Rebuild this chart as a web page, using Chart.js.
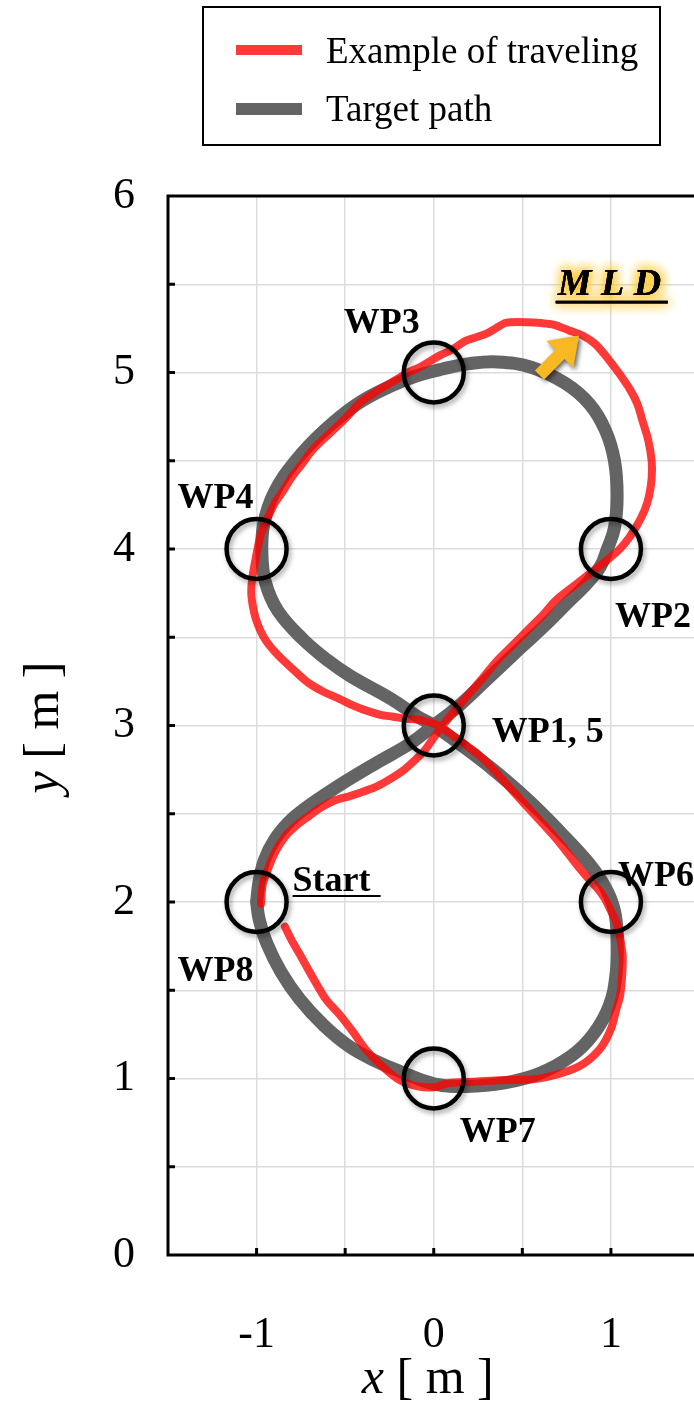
<!DOCTYPE html>
<html>
<head>
<meta charset="utf-8">
<script src="https://cdn.jsdelivr.net/npm/chart.js@4.4.1/dist/chart.umd.min.js"></script>
<style>
  html, body { margin: 0; padding: 0; background: #fff; overflow: hidden; }
  #wrap { position: relative; width: 734px; height: 1404px; }
  #chart { width: 734px; height: 1404px; }
</style>
</head>
<body>
<div id="wrap"><canvas id="chart" width="734" height="1404"></canvas></div>
<script>
// target figure-eight, starting at WP8 and running WP1 -> WP8
const targetX = [-1.0, -0.985, -0.955, -0.9, -0.82, -0.74, -0.55, -0.32, -0.13, 0.0, 0.14, 0.3, 0.49,
  0.62, 0.75, 0.86, 0.94, 0.98, 1.02, 1.035, 1.02, 0.97, 0.88, 0.74, 0.55, 0.36, 0.2, 0.05, -0.1,
  -0.25, -0.435, -0.62, -0.78, -0.9, -0.96, -0.97, -0.95, -0.88, -0.74, -0.6, -0.47, -0.24, -0.09,
  0.0, 0.14, 0.335, 0.53, 0.72, 0.875, 0.97, 1.02, 1.035, 1.03, 0.99, 0.9, 0.78, 0.6, 0.4, 0.185,
  0.0, -0.19, -0.33, -0.475, -0.62, -0.757, -0.86, -0.94, -0.985, -1.0];
const targetY = [2.0, 2.12, 2.24, 2.35, 2.45, 2.52, 2.65, 2.79, 2.9, 3.0, 3.11, 3.26, 3.44,
  3.56, 3.69, 3.8, 3.9, 4.0, 4.12, 4.3, 4.5, 4.67, 4.82, 4.94, 5.03, 5.06, 5.05, 5.02, 4.98,
  4.92, 4.82, 4.67, 4.5, 4.32, 4.14, 3.97, 3.81, 3.65, 3.49, 3.37, 3.28, 3.15, 3.05,
  3.0, 2.9, 2.75, 2.58, 2.39, 2.22, 2.08, 1.95, 1.8, 1.6, 1.41, 1.25, 1.13, 1.03, 0.975, 0.955,
  0.97, 1.04, 1.1, 1.18, 1.3, 1.45, 1.6, 1.76, 1.9, 2.0];

// measured run
const travelX = [-0.975, -0.965, -0.93, -0.897, -0.84, -0.78, -0.7, -0.647, -0.56, -0.474, -0.4, -0.32,
  -0.24, -0.166, -0.1, -0.05, 0.027, 0.123, 0.2, 0.277, 0.36, 0.45, 0.53, 0.62, 0.69, 0.79, 0.88,
  0.97, 1.05, 1.1, 1.145, 1.19, 1.215, 1.23, 1.23, 1.21, 1.18, 1.15, 1.11, 1.05, 0.99, 0.913, 0.84,
  0.76, 0.68, 0.605, 0.52, 0.43, 0.4, 0.35, 0.297, 0.24, 0.18, 0.104, 0.04, -0.012, -0.08, -0.146,
  -0.21, -0.28, -0.35, -0.416, -0.48, -0.55, -0.62, -0.685, -0.745, -0.8, -0.85, -0.897, -0.94,
  -0.974, -0.995, -1.01, -1.025, -1.03, -1.02, -1.003, -0.975, -0.94, -0.89, -0.84, -0.775, -0.705,
  -0.62, -0.53, -0.46, -0.397, -0.3, -0.23, -0.166, -0.07, 0.027, 0.085, 0.142, 0.2, 0.258, 0.32,
  0.373, 0.45, 0.527, 0.6, 0.681, 0.75, 0.816, 0.875, 0.93, 0.965, 0.99, 1.015, 1.04, 1.055, 1.066,
  1.066, 1.06, 1.05, 1.03, 1.0, 0.94, 0.84, 0.72, 0.56, 0.37, 0.185, 0.09, 0.0, -0.09, -0.19, -0.28,
  -0.38, -0.46, -0.53, -0.606, -0.67, -0.743, -0.8, -0.84];
const travelY = [1.99, 2.1, 2.2, 2.28, 2.37, 2.43, 2.49, 2.53, 2.575, 2.6, 2.625, 2.655,
  2.7, 2.75, 2.81, 2.86, 2.97, 3.09, 3.18, 3.27, 3.37, 3.46, 3.54, 3.63, 3.71, 3.79, 3.86,
  3.93, 4.0, 4.06, 4.13, 4.22, 4.3, 4.4, 4.5, 4.62, 4.72, 4.82, 4.9, 4.99, 5.07, 5.16, 5.21,
  5.24, 5.27, 5.28, 5.285, 5.285, 5.28, 5.25, 5.22, 5.2, 5.18, 5.13, 5.1, 5.07, 5.03, 5.0,
  4.96, 4.92, 4.875, 4.83, 4.76, 4.69, 4.625, 4.56, 4.48, 4.41, 4.33, 4.26, 4.17,
  4.09, 4.0, 3.92, 3.83, 3.75, 3.67, 3.6, 3.53, 3.47, 3.41, 3.36, 3.3, 3.24,
  3.19, 3.15, 3.115, 3.09, 3.06, 3.05, 3.04, 3.03, 3.0, 2.96, 2.92, 2.875, 2.83, 2.77,
  2.71, 2.625, 2.54, 2.46, 2.37, 2.285, 2.2, 2.13, 2.07, 2.02, 1.97, 1.92, 1.86, 1.78, 1.7,
  1.63, 1.54, 1.46, 1.39, 1.28, 1.17, 1.08, 1.03, 0.995, 0.99, 0.98, 0.975, 0.95, 0.955, 0.99, 1.06,
  1.16, 1.27, 1.36, 1.445, 1.55, 1.68, 1.78, 1.86];

const wpNames = ['WP2', 'WP3', 'WP4', 'WP1, 5', 'WP6', 'WP7', 'WP8'];
const wpX = [1, 0, -1, 0, 1, 0, -1];
const wpY = [4, 5, 4, 3, 2, 1, 2];

const xLabelValues = [-1, 0, 1];
const yLabelValues = [0, 1, 2, 3, 4, 5, 6];

const SERIF = "'Liberation Serif', 'Times New Roman', serif";

// label placement relative to each waypoint, in px: [dx, dy, align]
const labelOffsets = {
  'WP2': [4, 78, 'left'],
  'WP3': [-14, -40, 'right'],
  'WP4': [-3, -41, 'right'],
  'WP1, 5': [58, 16, 'left'],
  'WP6': [7, -16, 'left'],
  'WP7': [26, 63, 'left'],
  'WP8': [-3, 79, 'right'],
};

const toPoints = (xs, ys) => xs.map((x, i) => ({ x, y: ys[i] }));

function drawArrow(ctx, tipX, tipY) {
  // block arrow pointing up-right
  const len = 56, headLen = 27, headHalf = 19, shaftHalf = 6.5;
  ctx.save();
  ctx.translate(tipX, tipY);
  ctx.rotate(-Math.PI / 4);
  ctx.beginPath();
  ctx.moveTo(0, 0);
  ctx.lineTo(-headLen, -headHalf);
  ctx.lineTo(-headLen, -shaftHalf);
  ctx.lineTo(-len, -shaftHalf);
  ctx.lineTo(-len, shaftHalf);
  ctx.lineTo(-headLen, shaftHalf);
  ctx.lineTo(-headLen, headHalf);
  ctx.closePath();
  ctx.shadowColor = 'rgba(0,0,0,0.65)';
  ctx.shadowBlur = 5;
  ctx.shadowOffsetX = 2;
  ctx.shadowOffsetY = 2;
  ctx.fillStyle = '#f7b824';
  ctx.fill();
  ctx.restore();
}

const figureNotes = {
  id: 'figureNotes',
  beforeDraw(chart) {
    const { ctx } = chart;
    ctx.save();
    ctx.fillStyle = '#fff';
    ctx.fillRect(0, 0, chart.width, chart.height);
    ctx.restore();
  },
  beforeDatasetDraw(chart, args) {
    if (args.index !== 0) return;
    const { ctx } = chart;
    ctx.save();
    ctx.shadowColor = 'rgba(0,0,0,0.35)';
    ctx.shadowBlur = 5;
    ctx.shadowOffsetX = 2;
    ctx.shadowOffsetY = 3;
  },
  afterDatasetDraw(chart, args) {
    if (args.index !== 0) return;
    chart.ctx.restore();
  },
  afterDraw(chart) {
    const { ctx, chartArea: a } = chart;
    const xs = chart.scales.x, ys = chart.scales.y;
    ctx.save();

    // frame
    ctx.strokeStyle = '#000';
    ctx.lineWidth = 3;
    ctx.strokeRect(a.left, a.top, a.right - a.left, a.bottom - a.top);

    // inward tick marks
    ctx.lineWidth = 3;
    ctx.beginPath();
    xs.ticks.forEach(t => {
      if (t.value <= xs.min || t.value >= xs.max) return;
      const p = xs.getPixelForValue(t.value);
      ctx.moveTo(p, a.bottom);
      ctx.lineTo(p, a.bottom - 7);
    });
    ys.ticks.forEach(t => {
      if (t.value <= ys.min || t.value >= ys.max) return;
      const p = ys.getPixelForValue(t.value);
      ctx.moveTo(a.left, p);
      ctx.lineTo(a.left + 7, p);
    });
    ctx.stroke();

    // axis titles: italic variable + upright unit
    ctx.fillStyle = '#000';
    ctx.textBaseline = 'alphabetic';
    const drawTitle = (v, unit, cx, cy) => {
      ctx.font = `italic 50px ${SERIF}`;
      const w1 = ctx.measureText(v).width;
      ctx.font = `50px ${SERIF}`;
      const w2 = ctx.measureText(unit).width;
      const x = cx - (w1 + w2) / 2;
      ctx.font = `italic 50px ${SERIF}`;
      ctx.textAlign = 'left';
      ctx.fillText(v, x, cy);
      ctx.font = `50px ${SERIF}`;
      ctx.fillText(unit, x + w1, cy);
    };
    drawTitle('x', ' [ m ]', (a.left + a.right) / 2 - 6, 1393);
    ctx.save();
    ctx.translate(58, (a.top + a.bottom) / 2 + 2);
    ctx.rotate(-Math.PI / 2);
    drawTitle('y', ' [ m ]', 0, 0);
    ctx.restore();

    // legend box
    ctx.lineWidth = 2;
    ctx.strokeStyle = '#000';
    ctx.strokeRect(203, 7, 457, 138);
    const legendItems = [chart.data.datasets[1], chart.data.datasets[2]];
    const rows = [[50, 63], [109, 121]];
    legendItems.forEach((ds, i) => {
      ctx.beginPath();
      ctx.strokeStyle = ds.borderColor;
      ctx.lineWidth = i === 0 ? 10 : 12;
      ctx.lineCap = 'butt';
      ctx.moveTo(236, rows[i][0]);
      ctx.lineTo(302, rows[i][0]);
      ctx.stroke();
      ctx.fillStyle = '#000';
      ctx.font = `37px ${SERIF}`;
      ctx.textAlign = 'left';
      ctx.fillText(ds.label, 326, rows[i][1]);
    });

    // waypoint names
    ctx.font = `bold 36px ${SERIF}`;
    ctx.fillStyle = '#000';
    wpNames.forEach((name, i) => {
      const [dx, dy, align] = labelOffsets[name];
      const px = xs.getPixelForValue(wpX[i]);
      const py = ys.getPixelForValue(wpY[i]);
      ctx.textAlign = align;
      ctx.fillText(name, px + dx, py + dy);
    });

    // start marker, underlined
    const sx = xs.getPixelForValue(wpX[6]) + 36;
    const sy = ys.getPixelForValue(wpY[6]) - 11;
    ctx.textAlign = 'left';
    ctx.fillText('Start', sx, sy);
    ctx.lineWidth = 2;
    ctx.strokeStyle = '#000';
    ctx.beginPath();
    ctx.moveTo(sx, sy + 5);
    ctx.lineTo(sx + 88, sy + 5);
    ctx.stroke();

    // MLD note with glow
    const mx = xs.getPixelForValue(0.7);
    const my = ys.getPixelForValue(5.44);
    ctx.font = `italic bold 38px ${SERIF}`;
    ctx.textAlign = 'left';
    ctx.save();
    ctx.shadowColor = 'rgba(255,196,30,0.95)';
    ctx.shadowBlur = 12;
    for (let k = 0; k < 3; k++) {
      ctx.fillText('M L D', mx, my);
      ctx.fillRect(mx - 2, my + 6, 112, 2.5);
    }
    ctx.restore();
    ctx.fillText('M L D', mx, my);
    ctx.fillRect(mx - 2, my + 6, 112, 2.5);

    drawArrow(ctx, xs.getPixelForValue(0.82), ys.getPixelForValue(5.21));

    ctx.restore();
  },
};

const tickFont = { family: SERIF, size: 44 };

new Chart(document.getElementById('chart'), {
  type: 'scatter',
  data: {
    datasets: [
      {
        label: 'Waypoints',
        data: toPoints(wpX, wpY),
        order: 0,
        showLine: false,
        pointRadius: 30,
        pointBorderWidth: 4.5,
        borderColor: '#000',
        pointBorderColor: '#000',
        pointBackgroundColor: 'rgba(0,0,0,0)',
        clip: false,
      },
      {
        label: 'Example of traveling',
        data: toPoints(travelX, travelY),
        order: 1,
        showLine: true,
        borderColor: 'rgba(255,0,0,0.78)',
        borderWidth: 8,
        borderCapStyle: 'round',
        borderJoinStyle: 'round',
        pointRadius: 0,
        tension: 0.3,
      },
      {
        label: 'Target path',
        data: toPoints(targetX, targetY),
        order: 2,
        showLine: true,
        borderColor: '#646464',
        borderWidth: 13,
        borderCapStyle: 'round',
        borderJoinStyle: 'round',
        pointRadius: 0,
        tension: 0.4,
      },
    ],
  },
  options: {
    responsive: false,
    devicePixelRatio: 1,
    animation: false,
    events: [],
    // the waypoint rings reserve ~34px of overflow on every side, so the
    // plot's right edge lands just past the visible page width
    layout: { padding: { top: 196, right: 0, left: 0, bottom: 0 } },
    plugins: {
      legend: { display: false },
      tooltip: { enabled: false },
    },
    scales: {
      x: {
        type: 'linear',
        position: 'bottom',
        min: -1.5,
        max: 1.5,
        afterFit(scale) {
          scale.height = 149;
          scale.paddingLeft = 0;
          scale.paddingRight = 0;
        },
        border: { display: false },
        grid: { color: '#dcdcdc', lineWidth: 1.5, drawTicks: false },
        ticks: {
          stepSize: 0.5,
          autoSkip: false,
          maxRotation: 0,
          padding: 54,
          color: '#000',
          font: tickFont,
          callback: v => (xLabelValues.includes(v) ? String(v) : ''),
        },
      },
      y: {
        type: 'linear',
        position: 'left',
        min: 0,
        max: 6,
        afterFit(scale) {
          scale.width = 168;
          scale.paddingTop = 0;
          scale.paddingBottom = 0;
        },
        border: { display: false },
        grid: { color: '#dcdcdc', lineWidth: 1.5, drawTicks: false },
        ticks: {
          stepSize: 0.5,
          autoSkip: false,
          padding: 33,
          color: '#000',
          font: tickFont,
          callback: v => (yLabelValues.includes(v) ? String(v) : ''),
        },
      },
    },
  },
  plugins: [figureNotes],
});
</script>
</body>
</html>
